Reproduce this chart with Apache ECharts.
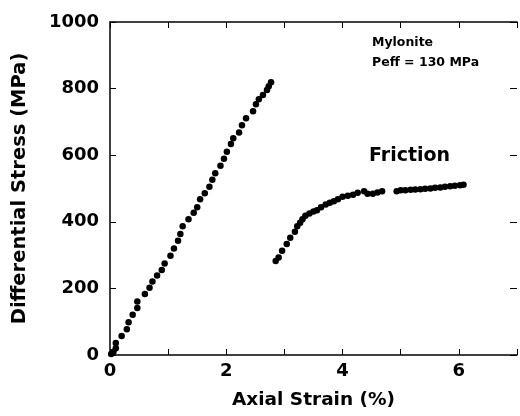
<!DOCTYPE html>
<html><head><meta charset="utf-8">
<script src="https://cdn.jsdelivr.net/npm/echarts@6/dist/echarts.min.js"></script>
<style>html,body{margin:0;padding:0;background:#fff}#c{width:520px;height:416px}</style>
</head><body><div id="c"></div>
<script>
const mylStrain = [0.02,0.06,0.10,0.10,0.20,0.29,0.32,0.39,0.47,0.47,0.60,0.68,0.73,0.81,0.89,0.94,1.04,1.10,1.17,1.21,1.25,1.35,1.44,1.50,1.55,1.63,1.71,1.76,1.81,1.90,1.96,2.01,2.08,2.12,2.22,2.27,2.34,2.46,2.51,2.56,2.63,2.70,2.73,2.77];
const mylStress = [3,10,20,36,57,77,98,121,141,161,183,202,221,239,255,275,298,320,343,363,387,408,427,444,468,486,505,526,546,568,589,610,634,651,668,690,711,732,753,768,781,796,807,819];
const fricStrain = [2.85,2.90,2.96,3.04,3.10,3.18,3.22,3.27,3.31,3.36,3.43,3.50,3.56,3.63,3.71,3.78,3.85,3.92,4.00,4.09,4.18,4.26,4.37,4.43,4.52,4.60,4.68,4.93,5.00,5.08,5.17,5.25,5.34,5.42,5.51,5.59,5.68,5.76,5.85,5.93,6.02,6.08];
const fricStress = [282,293,313,333,352,370,387,397,408,418,425,431,435,444,452,457,462,468,475,478,481,487,492,484,484,488,492,492,495,495,496,497,498,499,500,502,503,505,507,508,510,511];
const xLabels = [0,2,4,6];
const yLabels = [0,200,400,600,800,1000];

const chart = echarts.init(document.getElementById('c'), null, {renderer:'canvas'});
const font = '"DejaVu Sans", Arial, sans-serif';
const lineStyle = {color:'#000', width:1.5};
chart.setOption({
  animation:false,
  backgroundColor:'#fff',
  grid:{left:110, top:22, right:1, bottom:61},
  xAxis:[{
    type:'value', min:0, max:7, interval:1, position:'bottom',
    axisLine:{show:true, onZero:false, lineStyle},
    axisTick:{show:true, inside:true, length:6, lineStyle:{color:'#000', width:1}},
    splitLine:{show:false},
    axisLabel:{color:'#000', fontFamily:font, fontWeight:'bold', fontSize:18, margin:7,
      formatter:v=> xLabels.indexOf(v)>=0 ? String(v) : ''},
    name:'Axial Strain (%)', nameLocation:'middle', nameGap:36,
    nameTextStyle:{color:'#000', fontFamily:font, fontWeight:'bold', fontSize:18.5}
  },{
    type:'value', min:0, max:7, interval:1, position:'top',
    axisLine:{show:true, onZero:false, lineStyle},
    axisTick:{show:true, inside:true, length:6, lineStyle:{color:'#000', width:1}},
    axisLabel:{show:false}, splitLine:{show:false}
  }],
  yAxis:[{
    type:'value', min:0, max:1000, interval:200, position:'left',
    axisLine:{show:true, onZero:false, lineStyle},
    axisTick:{show:true, inside:true, length:6, lineStyle:{color:'#000', width:1}},
    splitLine:{show:false},
    axisLabel:{color:'#000', fontFamily:font, fontWeight:'bold', fontSize:18, margin:11,
      formatter:v=> yLabels.indexOf(v)>=0 ? String(v) : ''},
    name:'Differential Stress (MPa)', nameLocation:'middle', nameGap:80,
    nameTextStyle:{color:'#000', fontFamily:font, fontWeight:'bold', fontSize:19.5}
  },{
    type:'value', min:0, max:1000, interval:200, position:'right',
    axisLine:{show:true, onZero:false, lineStyle:{color:'rgba(0,0,0,0)', width:1}},
    axisTick:{show:true, inside:true, length:7, lineStyle:{color:'#000', width:1}},
    axisLabel:{show:false}, splitLine:{show:false}
  }],
  series:[{
    type:'scatter', xAxisIndex:0, yAxisIndex:0,
    data: mylStrain.map((x,i)=>[x, mylStress[i]]),
    symbol:'circle', symbolSize:6.5, itemStyle:{color:'#000', opacity:1}
  },{
    type:'scatter', xAxisIndex:0, yAxisIndex:0,
    data: fricStrain.map((x,i)=>[x, fricStress[i]]),
    symbol:'circle', symbolSize:6.5, itemStyle:{color:'#000', opacity:1}
  }],
  graphic:[
    {type:'text', left:372, top:36, style:{text:'Mylonite', fill:'#000', font:'bold 12.5px '+font}},
    {type:'text', left:372, top:56, style:{text:'Peff = 130 MPa', fill:'#000', font:'bold 12.5px '+font}},
    {type:'text', left:369, top:147, style:{text:'Friction', fill:'#000', font:'bold 19px '+font}}
  ]
});
</script></body></html>
